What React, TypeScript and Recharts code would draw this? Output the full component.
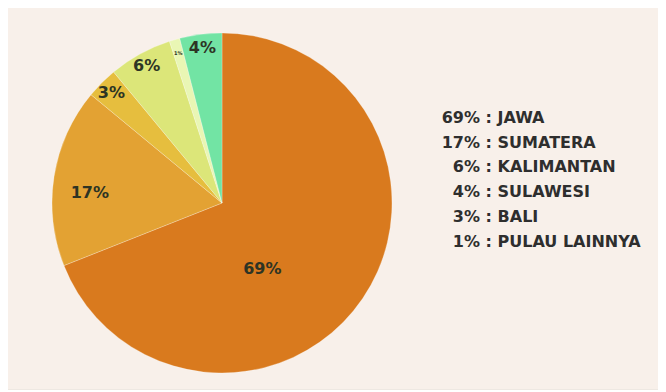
import React from 'react';
import { PieChart, Pie, Cell, Legend } from 'recharts';

const islands = ['JAWA', 'SUMATERA', 'BALI', 'KALIMANTAN', 'PULAU LAINNYA', 'SULAWESI'];
const shares = [69, 17, 3, 6, 1, 4];
const colors = ['#D97A1E', '#E3A233', '#E6BE3E', '#DCE679', '#E9F6B4', '#72E4A4'];

const data = islands.map((name, i) => ({ name, value: shares[i] }));

const RAD = Math.PI / 180;
const FONT = '"DejaVu Sans", sans-serif';

const renderLabel = (props: any) => {
    const { cx, cy, midAngle, outerRadius, value } = props;
    // big slice label sits lower, small slices hug the rim
    const ratio = value >= 50 ? 0.45 : value >= 10 ? 0.78 : 0.92;
    const shift = value >= 50 ? -24 : value >= 10 ? 4.5 : 0;
    const angle = midAngle + shift;
    const r = outerRadius * ratio;
    const x = cx + r * Math.cos(-angle * RAD);
    const y = cy + r * Math.sin(-angle * RAD);
    const size = value <= 1 ? 5 : 16;
    return (
        <text
            x={x}
            y={y}
            textAnchor='middle'
            dominantBaseline='central'
            fill='#2D3424'
            fontSize={size}
            fontWeight={700}
            fontFamily={FONT}
        >
            {value}%
        </text>
    );
};

const renderLegend = () => {
    const rows = [...data].sort((a, b) => b.value - a.value);
    return (
        <div style={{ fontFamily: FONT, fontWeight: 700, fontSize: 16, color: '#2E2E2E' }}>
            {rows.map((d) => (
                <div key={d.name} style={{ display: 'flex', height: 24.8, alignItems: 'center' }}>
                    <span style={{ width: 39, textAlign: 'right' }}>{d.value}%</span>
                    <span style={{ whiteSpace: 'pre' }}> : {d.name}</span>
                </div>
            ))}
        </div>
    );
};

export default function App() {
    return (
        <div
            style={{
                width: 660,
                height: 381,
                marginLeft: -2,
                marginTop: -2,
                background: '#F8F0EA',
                borderTop: '2px solid #DCDCDC',
                borderLeft: '2px solid #DCDCDC',
                borderBottom: '1px solid #EEE8E2',
                position: 'relative',
            }}
        >
            <PieChart width={658} height={381}>
                <Pie
                    data={data}
                    dataKey='value'
                    nameKey='name'
                    cx={209}
                    cy={190}
                    outerRadius={170}
                    startAngle={90}
                    endAngle={-270}
                    stroke='rgba(255,255,255,0.25)'
                    strokeWidth={1}
                    label={renderLabel}
                    labelLine={false}
                    isAnimationActive={false}
                >
                    {data.map((d, i) => (
                        <Cell key={d.name} fill={colors[i]} />
                    ))}
                </Pie>
                <Legend
                    content={renderLegend}
                    wrapperStyle={{ position: 'absolute', left: 433, top: 97, width: 225, bottom: 'auto' }}
                />
            </PieChart>
        </div>
    );
}
